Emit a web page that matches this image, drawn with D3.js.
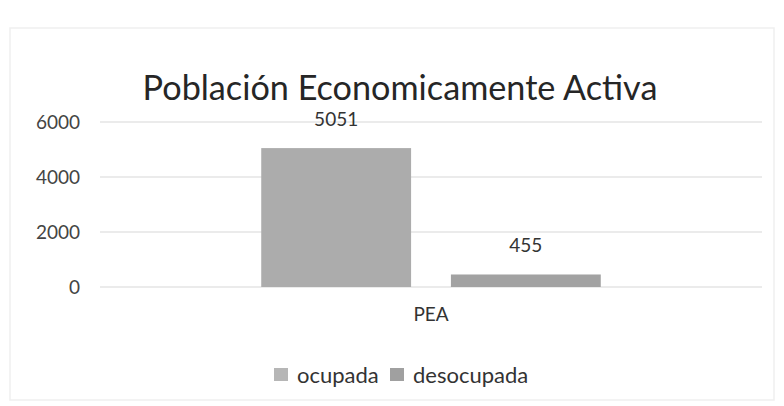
<!DOCTYPE html>
<html>
<head>
<meta charset="utf-8">
<script src="https://cdn.jsdelivr.net/npm/d3@7"></script>
<style>
  html, body { margin: 0; padding: 0; background: #fff; }
  svg { display: block; font-family: Lato, "Open Sans", sans-serif; }
</style>
</head>
<body>
<svg id="chart" width="784" height="406"></svg>
<script>
const title = 'Población Economicamente Activa';
const categories = ['PEA'];
const seriesNames = ['ocupada', 'desocupada'];
const seriesValues = [5051, 455];
const yTicks = [0, 2000, 4000, 6000];
const seriesColors = ['#acacac', '#a2a2a2'];

const width = 784, height = 406;
const margin = { top: 122, right: 22, bottom: 118, left: 100 };

const svg = d3.select('#chart');

// faint chart frame
svg.append('rect')
  .attr('x', 10).attr('y', 28)
  .attr('width', 764).attr('height', 372)
  .attr('fill', 'none')
  .attr('stroke', '#efefef')
  .attr('stroke-width', 1.5);

// title, sized to the reference width
const titleText = svg.append('text')
  .attr('x', 400)
  .attr('y', 100)
  .attr('text-anchor', 'middle')
  .attr('fill', '#262626')
  .attr('font-size', 34)
  .text(title);
const tw = titleText.node().getComputedTextLength();
titleText.attr('font-size', 34 * 515 / tw);

const x = d3.scaleBand()
  .domain(categories)
  .range([margin.left, width - margin.right]);

const xSeries = d3.scaleBand()
  .domain(seriesNames)
  .range([0, x.bandwidth()])
  .paddingInner(0.21)
  .paddingOuter(0.85);

const y = d3.scaleLinear()
  .domain([0, 6000])
  .range([height - margin.bottom - 1, margin.top]);

// gridlines
svg.append('g')
  .selectAll('line')
  .data(yTicks)
  .enter()
  .append('line')
  .attr('x1', margin.left)
  .attr('x2', width - margin.right)
  .attr('y1', d => y(d))
  .attr('y2', d => y(d))
  .attr('stroke', '#e4e4e4')
  .attr('stroke-width', 1.5);

// y axis labels
const yAxis = d3.axisLeft(y)
  .tickValues(yTicks)
  .tickFormat(d3.format('d'))
  .tickSize(0)
  .tickPadding(20);
const yG = svg.append('g')
  .attr('transform', `translate(${margin.left},0)`)
  .call(yAxis);
yG.select('.domain').remove();
yG.selectAll('text')
  .attr('font-family', 'Lato, sans-serif')
  .attr('font-size', 19)
  .attr('fill', '#444');

// bars
const bars = svg.append('g');
bars.selectAll('rect')
  .data(seriesNames)
  .enter()
  .append('rect')
  .attr('x', d => x('PEA') + xSeries(d))
  .attr('width', xSeries.bandwidth())
  .attr('y', (d, i) => y(seriesValues[i]))
  .attr('height', (d, i) => y(0) - y(seriesValues[i]))
  .attr('fill', (d, i) => seriesColors[i]);

// value labels
bars.selectAll('text')
  .data(seriesNames)
  .enter()
  .append('text')
  .attr('x', d => x('PEA') + xSeries(d) + xSeries.bandwidth() / 2)
  .attr('y', (d, i) => y(seriesValues[i]) - 22)
  .attr('text-anchor', 'middle')
  .attr('font-size', 19)
  .attr('fill', '#333')
  .text((d, i) => seriesValues[i]);

// x axis label
const xAxis = d3.axisBottom(x).tickSize(0).tickPadding(21);
const xG = svg.append('g')
  .attr('transform', `translate(0,${y(0)})`)
  .call(xAxis);
xG.select('.domain').remove();
xG.selectAll('text')
  .attr('font-family', 'Lato, sans-serif')
  .attr('font-size', 19)
  .attr('fill', '#333');

// legend
const legend = svg.append('g').attr('transform', 'translate(274,368)');
const legendX = [0, 116];
const item = legend.selectAll('g')
  .data(seriesNames)
  .enter()
  .append('g')
  .attr('transform', (d, i) => `translate(${legendX[i]},0)`);
item.append('rect')
  .attr('width', 14).attr('height', 13)
  .attr('fill', (d, i) => i === 0 ? '#b6b6b6' : '#a0a0a0');
item.append('text')
  .attr('x', 23)
  .attr('y', 7)
  .attr('dy', '0.35em')
  .attr('font-size', 22)
  .attr('fill', '#333')
  .text(d => d);
</script>
</body>
</html>
